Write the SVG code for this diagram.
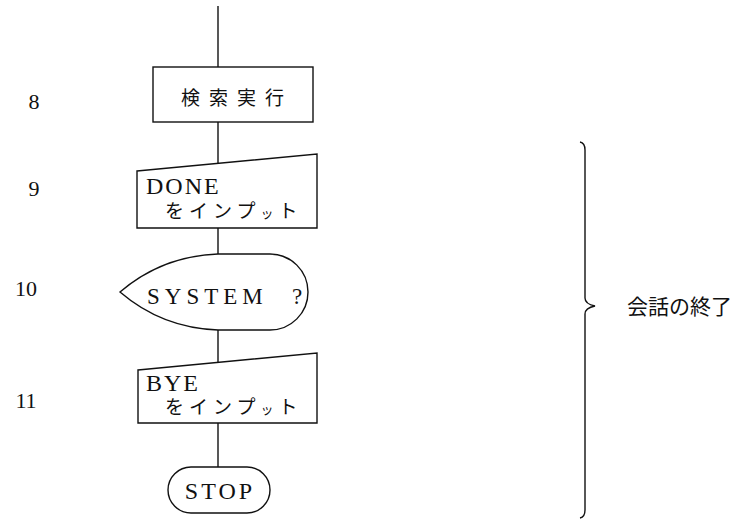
<svg xmlns="http://www.w3.org/2000/svg" width="755" height="520" viewBox="0 0 755 520">
<style>
.s{fill:none;stroke:#111;stroke-width:1.4}
.l{font-family:"Liberation Serif","DejaVu Serif",serif;fill:#111}
.j{font-family:"Noto Sans CJK JP","Noto Sans",sans-serif;fill:#111}
</style>
<rect width="755" height="520" fill="#fff"/>
<g id="connectors" class="s">
<line x1="218" y1="6" x2="218" y2="67"/>
<line x1="218" y1="122" x2="218" y2="163"/>
<line x1="218" y1="228" x2="218" y2="254"/>
<line x1="218" y1="330" x2="218" y2="362"/>
<line x1="218" y1="423" x2="218" y2="467"/>
</g>
<g id="step-numbers" class="l" font-size="22">
<text x="34" y="109" text-anchor="middle">8</text>
<text x="34" y="196" text-anchor="middle">9</text>
<text x="26" y="296" text-anchor="middle">10</text>
<text x="26" y="408" text-anchor="middle">11</text>
</g>
<g id="n8">
<rect class="s" x="153" y="67" width="160" height="55"/>
<text class="j" x="237" y="105" font-size="19" text-anchor="middle" letter-spacing="9">検索実行</text>
</g>
<g id="n9">
<polygon class="s" points="137,171 317,154 317,228 137,228"/>
<text class="l" x="146" y="194" font-size="24" letter-spacing="2">DONE</text>
<text class="j" x="165" y="218" font-size="19" letter-spacing="5">をインプ<tspan font-size="13">ッ</tspan>ト</text>
</g>
<g id="n10">
<path class="s" d="M120,292 Q162,256 218,254 L270,254 A38,38 0 0 1 270,330 L218,330 Q162,328 120,292 Z"/>
<text class="l" x="147" y="304" font-size="23" letter-spacing="5">SYSTEM</text>
<text class="l" x="292" y="304" font-size="23">?</text>
</g>
<g id="n11">
<polygon class="s" points="138,370 317,353 317,423 138,423"/>
<text class="l" x="146" y="391" font-size="24" letter-spacing="2">BYE</text>
<text class="j" x="165" y="414" font-size="19" letter-spacing="5">をインプ<tspan font-size="13">ッ</tspan>ト</text>
</g>
<g id="stop">
<rect class="s" x="168" y="467" width="102" height="46" rx="23"/>
<text class="l" x="220" y="499" font-size="24" text-anchor="middle" letter-spacing="3">STOP</text>
</g>
<g id="brace">
<path class="s" d="M580,142 Q585,143 585,150 L585,298 Q585,304 595,306 Q585,308 585,314 L585,510 Q585,517 580,518"/>
<text class="j" x="627" y="314" font-size="21">会話の終了</text>
</g>
</svg>
